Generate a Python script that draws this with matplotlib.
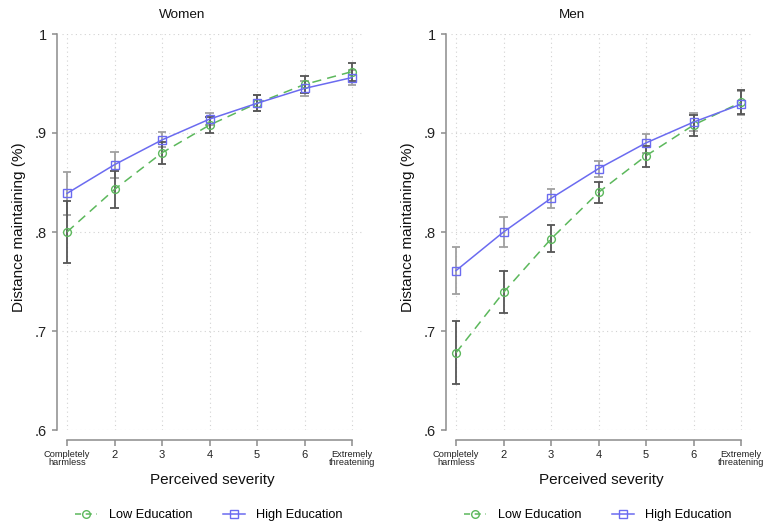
import matplotlib
matplotlib.use("Agg")
import matplotlib.pyplot as plt
from matplotlib.lines import Line2D

plt.rcParams['font.family'] = ['Liberation Sans', 'DejaVu Sans']

categories = [1, 2, 3, 4, 5, 6, 7]
tick_labels = ["Completely\nharmless", "2", "3", "4", "5", "6", "Extremely\nthreatening"]
yticks = [0.6, 0.7, 0.8, 0.9, 1.0]
ytick_labels = [".6", ".7", ".8", ".9", "1"]

women_low = [0.800, 0.843, 0.880, 0.908, 0.930, 0.949, 0.962]
women_low_lo = [0.769, 0.824, 0.869, 0.900, 0.922, 0.940, 0.953]
women_low_hi = [0.831, 0.862, 0.891, 0.916, 0.938, 0.958, 0.971]
women_high = [0.839, 0.868, 0.893, 0.914, 0.930, 0.945, 0.956]
women_high_lo = [0.817, 0.855, 0.886, 0.908, 0.922, 0.937, 0.948]
women_high_hi = [0.861, 0.881, 0.901, 0.920, 0.938, 0.953, 0.964]

men_low = [0.678, 0.739, 0.793, 0.840, 0.877, 0.908, 0.931]
men_low_lo = [0.646, 0.718, 0.780, 0.829, 0.866, 0.897, 0.919]
men_low_hi = [0.710, 0.761, 0.807, 0.850, 0.887, 0.918, 0.943]
men_high = [0.761, 0.800, 0.834, 0.864, 0.890, 0.911, 0.929]
men_high_lo = [0.737, 0.785, 0.824, 0.856, 0.880, 0.902, 0.918]
men_high_hi = [0.785, 0.815, 0.843, 0.872, 0.899, 0.920, 0.942]

GREEN = "#5cb85c"
BLUE = "#6b6bf0"
DARK = "#555555"
LIGHT = "#a0a0a0"
AXC = "#8c8c8c"

fig = plt.figure(figsize=(7.65, 5.25), dpi=100)
W, H = 765, 525
PX = 72 / 100  # points per pixel
CAP = 0.085

def make_ax(left_px, right_px, title, title_x, low, low_lo, low_hi, high, high_lo, high_hi, ylabel_x):
    ax = fig.add_axes([left_px / W, 1 - 430 / H, (right_px - left_px) / W, (430 - 34) / H])
    ax.set_xlim(1 - 5 / 47.5, 7 + 10 / 47.5)
    ax.set_ylim(0.6, 1.0)
    for y in yticks:
        ax.axhline(y, color="#d2d2d2", lw=0.8, ls=(0, (1, 3)), zorder=0)
    for x in categories:
        ax.axvline(x, color="#d2d2d2", lw=0.8, ls=(0, (1, 3)), zorder=0)
    left_caps = [c - CAP for c in categories]
    right_caps = [c + CAP for c in categories]
    ax.vlines(categories, high_lo, high_hi, color=LIGHT, lw=1.3, zorder=2)
    ax.hlines(high_lo, left_caps, right_caps, color=LIGHT, lw=1.3, zorder=2)
    ax.hlines(high_hi, left_caps, right_caps, color=LIGHT, lw=1.3, zorder=2)
    ax.vlines(categories, low_lo, low_hi, color=DARK, lw=1.3, zorder=2)
    ax.hlines(low_lo, left_caps, right_caps, color=DARK, lw=1.3, zorder=2)
    ax.hlines(low_hi, left_caps, right_caps, color=DARK, lw=1.3, zorder=2)
    ax.plot(categories, low, color=GREEN, lw=1.1, ls=(0, (6, 4)), marker='o', ms=5.6,
            mfc='none', mec=GREEN, mew=1.0, zorder=3)
    ax.plot(categories, high, color=BLUE, lw=1.1, ls='-', marker='s', ms=5.6,
            mfc='none', mec=BLUE, mew=1.0, zorder=3)
    for s in ['top', 'right']:
        ax.spines[s].set_visible(False)
    ax.spines['left'].set_position(('outward', 5 * PX))
    ax.spines['bottom'].set_position(('outward', 10 * PX))
    ax.spines['left'].set_bounds(0.6, 1.0)
    ax.spines['bottom'].set_bounds(1, 7)
    for s in ['left', 'bottom']:
        ax.spines[s].set_color(AXC)
        ax.spines[s].set_linewidth(1.1)
    ax.set_yticks(yticks)
    ax.set_yticklabels(ytick_labels, fontsize=10.5)
    ax.set_xticks(categories)
    ax.set_xticklabels(tick_labels, fontsize=6.7, linespacing=0.8)
    for i, lab in enumerate(ax.get_xticklabels()):
        if i not in (0, 6):
            lab.set_fontsize(8)
    ax.tick_params(axis='both', color=AXC, length=5 * PX, width=1.1, labelcolor="#222222")
    ax.tick_params(axis='x', pad=3, length=6 * PX)
    ax.set_xlabel("Perceived severity", fontsize=11, color="#111111")
    ax.xaxis.set_label_coords(0.5, -(480 - 430) / (430 - 34))
    ax.xaxis.label.set_va('center')
    ax.set_ylabel("Distance maintaining (%)", fontsize=11, color="#111111")
    ax.yaxis.set_label_coords((ylabel_x - left_px) / (right_px - left_px), (430 - 227) / (430 - 34))
    ax.yaxis.label.set_va('center')
    fig.text(title_x / W, 1 - 15 / H, title, ha='center', va='center', fontsize=9.7, color="#111111")
    return ax

ax1 = make_ax(62, 362, "Women", 182, women_low, women_low_lo, women_low_hi,
              women_high, women_high_lo, women_high_hi, 19)
ax2 = make_ax(451, 751, "Men", 572, men_low, men_low_lo, men_low_hi,
              men_high, men_high_lo, men_high_hi, 408)

handles = [
    Line2D([], [], color=GREEN, lw=1.1, ls=(0, (4, 3)), marker='o', ms=5.5, mfc='none', mec=GREEN),
    Line2D([], [], color=BLUE, lw=1.1, ls='-', marker='s', ms=5.5, mfc='none', mec=BLUE),
]
labels = ["Low Education", "High Education"]
for cx in (209, 598):
    fig.legend(handles, labels, loc='center', bbox_to_anchor=(cx / W, 1 - 515 / H), ncol=2,
               frameon=False, fontsize=9.2, handlelength=1.7, columnspacing=2.4, handletextpad=0.9)

fig.savefig("out.png", dpi=100)
